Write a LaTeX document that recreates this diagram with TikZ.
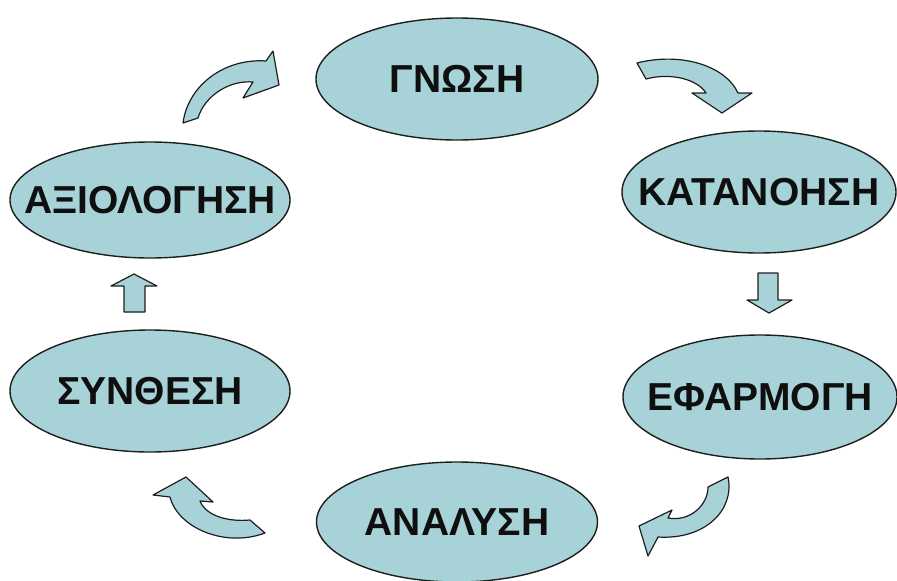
\documentclass[tikz,border=0pt]{standalone}
\usepackage{fontspec}
\setmainfont{Liberation Sans}
\usetikzlibrary{shapes.geometric}
\definecolor{tealfill}{RGB}{167,211,216}
\definecolor{edgecol}{RGB}{30,30,30}
\definecolor{textcol}{RGB}{15,15,15}
\begin{document}
\begin{tikzpicture}[x=1pt,y=-1pt,
  stage/.style={ellipse,draw=edgecol,fill=tealfill,line width=1.4pt,inner sep=0pt},
  stagetext/.style={inner sep=0pt,text=textcol,font=\fontsize{39}{44}\selectfont\bfseries},
  blockarrow/.style={draw=edgecol,fill=tealfill,line width=1.2pt,line join=round}]
\useasboundingbox (0,0) rectangle (897,581);
% stages
\node[stage,minimum width=282pt,minimum height=122pt] (gnosi) at (457,79) {};
\node[stagetext] (gnosiT) at (gnosi) {ΓΝΩΣΗ};
\node[stage,minimum width=274pt,minimum height=122pt] (katan) at (759,192) {};
\node[stagetext] (katanT) at (katan) {ΚΑΤΑΝΟΗΣΗ};
\node[stage,minimum width=274pt,minimum height=124pt] (efarm) at (760,397) {};
\node[stagetext] (efarmT) at (efarm) {ΕΦΑΡΜΟΓΗ};
\node[stage,minimum width=281pt,minimum height=120pt] (anal) at (457,522) {};
\node[stagetext] (analT) at (anal) {ΑΝΑΛΥΣΗ};
\node[stage,minimum width=280pt,minimum height=122pt] (synth) at (150,391) {};
\node[stagetext] (synthT) at (synth) {ΣΥΝΘΕΣΗ};
\node[stage,minimum width=280pt,minimum height=116pt] (axiol) at (150,200) {};
\node[stagetext] (axiolT) at (axiol) {ΑΞΙΟΛΟΓΗΣΗ};
% curved arrow: axiologisi -> gnosi
\path[blockarrow] (183,123) .. controls (188,85) and (225,58) .. (266,61) -- (273,51)
  -- (279,85) -- (243,98) -- (253,82) .. controls (230,80) and (205,95) .. (198,118) -- cycle;
% curved arrow: gnosi -> katanoisi
\path[blockarrow] (637,63) .. controls (680,52) and (725,65) .. (738,93) -- (752,93)
  -- (722,113) -- (692,93) -- (706,93) .. controls (698,80) and (672,72) .. (646,79) -- cycle;
% straight arrow: katanoisi -> efarmogi
\path[blockarrow] (758,273) -- (778,273) -- (778,300) -- (792,300) -- (769,313)
  -- (747,300) -- (758,300) -- cycle;
% curved arrow: efarmogi -> analysi
\path[blockarrow] (728,477) .. controls (735,510) and (705,540) .. (658,537) -- (648,556)
  -- (639,526) -- (672,510) -- (668,518) .. controls (690,522) and (708,505) .. (708,487) -- cycle;
% curved arrow: analysi -> synthesi
\path[blockarrow] (265,533) .. controls (225,548) and (178,528) .. (170,497) -- (153,495)
  -- (186,477) -- (213,502) -- (200,501) .. controls (206,516) and (228,522) .. (250,520) -- cycle;
% straight arrow: synthesi -> axiologisi
\path[blockarrow] (124,312) -- (145,312) -- (145,286) -- (157,286) -- (134,274)
  -- (111,286) -- (124,286) -- cycle;
\end{tikzpicture}
\end{document}
